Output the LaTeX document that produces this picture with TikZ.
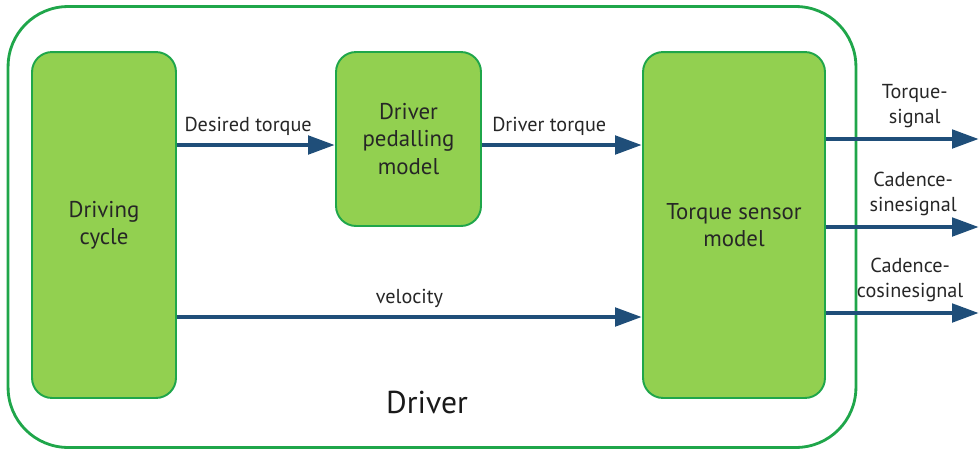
\documentclass[tikz,border=0pt]{standalone}
\usepackage{fontspec}
\setmainfont{PT Sans}
\usetikzlibrary{arrows.meta,calc,positioning}
\definecolor{boxfill}{HTML}{92D050}
\definecolor{boxline}{HTML}{1FA64A}
\definecolor{flowblue}{HTML}{1F4E79}

\begin{document}
\begin{tikzpicture}[x=0.02cm,y=-0.02cm,
 block/.style={draw=boxline,fill=boxfill,line width=1.1pt,rounded corners=0.4cm,
               align=center,font=\fontsize{13}{15.5}\selectfont,text=black!85,inner sep=0pt},
 frame/.style={draw=boxline,line width=1.6pt,rounded corners=1.2cm,inner sep=0pt,
               minimum width=16.96cm,minimum height=8.82cm},
 flow/.style={-{Triangle[length=5.4mm,width=3.6mm]},line width=2.8pt,draw=flowblue},
 lbl/.style={font=\fontsize{11.5}{14}\selectfont,text=black!85,align=center,inner sep=1pt}]
\useasboundingbox (0,0) rectangle (979,450);
\node[frame] (driver) at (432,227) {};
\node[font=\fontsize{18}{20}\selectfont,text=black!90] (drvlabel) at (427,402) {Driver};
\node[block,minimum width=2.88cm,minimum height=6.92cm] (cycle) at (104,225) {Driving\\cycle};
\node[block,minimum width=2.9cm,minimum height=3.48cm] (pedal) at (408.5,139) {Driver\\pedalling\\model};
\node[block,minimum width=3.64cm,minimum height=6.92cm] (sensor) at (734,225) {Torque sensor\\model};
\coordinate (out1) at (979,139);
\coordinate (out2) at (979,227);
\coordinate (out3) at (979,313);
\draw[flow] (cycle.east |- 0,145) -- node[lbl,above=3pt,pos=0.45]{Desired torque} (pedal.west |- 0,145);
\draw[flow] (pedal.east |- 0,145) -- node[lbl,above=3pt,pos=0.42]{Driver torque} (sensor.west |- 0,145);
\draw[flow] (cycle.east |- 0,317) -- node[lbl,above=3pt]{velocity} (sensor.west |- 0,317);
\draw[flow] (sensor.east |- out1) -- node[lbl,above=4pt,pos=0.58]{Torque-\\signal} (out1);
\draw[flow] (sensor.east |- out2) -- node[lbl,above=4pt,pos=0.57]{Cadence-\\sinesignal} (out2);
\draw[flow] (sensor.east |- out3) -- node[lbl,above=4pt,pos=0.55]{Cadence-\\cosinesignal} (out3);
\end{tikzpicture}
\end{document}
